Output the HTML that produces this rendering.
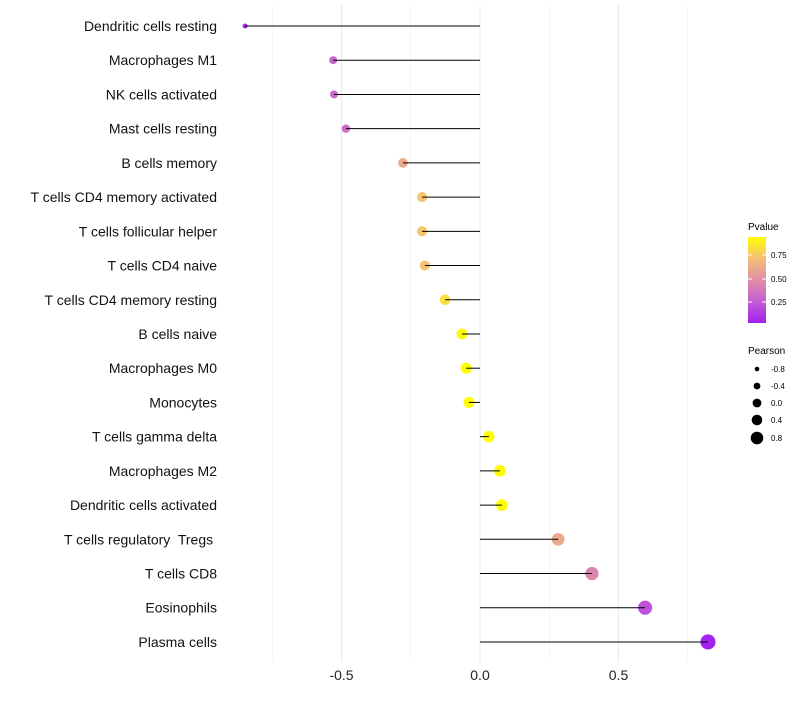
<!DOCTYPE html>
<html><head><meta charset="utf-8"><style>
body{margin:0;background:#fff;font-family:"Liberation Sans",sans-serif;}
svg text{font-family:"Liberation Sans",sans-serif;white-space:pre;}
</style></head><body>
<svg id="chart" width="800" height="700">
<defs><linearGradient id="pg" x1="0" y1="1" x2="0" y2="0">
<stop offset="0" stop-color="#a020f0"/><stop offset="0.25" stop-color="#c45dd5"/><stop offset="0.5" stop-color="#e08ea8"/><stop offset="0.75" stop-color="#f5be78"/><stop offset="1" stop-color="#ffff00"/>
</linearGradient></defs>
<g id="grid"></g><g id="points"></g><g id="stems"></g><g id="labels"></g>
<g>
<text x="748" y="230" font-size="10" fill="#000">Pvalue</text>
<rect x="748" y="237" width="18" height="86" fill="url(#pg)"/>
<line x1="748" x2="752" y1="255" y2="255" stroke="#fff"/><line x1="762" x2="766" y1="255" y2="255" stroke="#fff"/>
<line x1="748" x2="752" y1="279" y2="279" stroke="#fff"/><line x1="762" x2="766" y1="279" y2="279" stroke="#fff"/>
<line x1="748" x2="752" y1="302" y2="302" stroke="#fff"/><line x1="762" x2="766" y1="302" y2="302" stroke="#fff"/>
<text x="771" y="258" font-size="8">0.75</text><text x="771" y="282" font-size="8">0.50</text><text x="771" y="305" font-size="8">0.25</text>
</g>
<g>
<text x="748" y="354" font-size="10">Pearson</text>
<circle cx="757" cy="369" r="2.3"/><text x="771" y="372" font-size="8">-0.8</text>
<circle cx="757" cy="386" r="3.4"/><text x="771" y="389" font-size="8">-0.4</text>
<circle cx="757" cy="403" r="4.4"/><text x="771" y="406" font-size="8">0.0</text>
<circle cx="757" cy="420" r="5.3"/><text x="771" y="423" font-size="8">0.4</text>
<circle cx="757" cy="438" r="6.3"/><text x="771" y="441" font-size="8">0.8</text>
</g>
</svg>
<script>
const categories=["Dendritic cells resting","Macrophages M1","NK cells activated","Mast cells resting","B cells memory","T cells CD4 memory activated","T cells follicular helper","T cells CD4 naive","T cells CD4 memory resting","B cells naive","Macrophages M0","Monocytes","T cells gamma delta","Macrophages M2","Dendritic cells activated","T cells regulatory  Tregs ","T cells CD8","Eosinophils","Plasma cells"];
const pearson=[-0.848,-0.53,-0.527,-0.484,-0.278,-0.209,-0.209,-0.199,-0.126,-0.065,-0.05,-0.04,0.032,0.072,0.079,0.282,0.404,0.596,0.823];
const pvalue=[0.06,0.3,0.31,0.33,0.62,0.73,0.73,0.73,0.83,0.92,0.96,0.98,0.98,0.93,0.93,0.62,0.45,0.22,0.04];
const xTicks=[-0.5,0,0.5];
const xTickLabels=["-0.5","0.0","0.5"];
const NS="http://www.w3.org/2000/svg";
const x=v=>480+v*277;
const y=i=>26+i*34.22;
const rad=v=>Math.sqrt(Math.max(2,32+30*v));
const stops=[[160,32,240],[196,93,213],[224,142,168],[245,190,120],[255,255,0]];
function col(p){const t=Math.max(0,Math.min(1,(p-0.03)/0.91))*4;
 const k=Math.min(3,Math.floor(t)),s=t-k,a=stops[k],b=stops[k+1];
 return `rgb(${a.map((v,j)=>Math.round(v+(b[j]-v)*s)).join(',')})`;}
function mk(t,at,g){const e=document.createElementNS(NS,t);for(const k in at)e.setAttribute(k,at[k]);g.appendChild(e);return e;}
const grid=document.getElementById('grid'),points=document.getElementById('points'),stems=document.getElementById('stems'),labels=document.getElementById('labels');
[-0.75,-0.25,0.25,0.75].forEach(v=>mk('line',{x1:x(v),x2:x(v),y1:5,y2:662,stroke:'#f0f0f0','stroke-width':0.6},grid));
xTicks.forEach((v,i)=>{mk('line',{x1:x(v),x2:x(v),y1:5,y2:662,stroke:'#ebebeb','stroke-width':1.1},grid);
 const t=mk('text',{x:x(v),y:680,'font-size':14,'text-anchor':'middle',fill:'#222'},labels);t.textContent=xTickLabels[i];
 
 });
categories.forEach((c,i)=>{
 const p=mk('circle',{cx:x(pearson[i]),cy:y(i),r:rad(pearson[i]),fill:col(pvalue[i])},points);
 
 
 const l=mk('line',{x1:x(0),x2:x(pearson[i]),y1:y(i),y2:y(i),stroke:'#000','stroke-width':1},stems);
 
 
 const t=mk('text',{x:217,y:y(i)+5,'font-size':14,'text-anchor':'end',fill:'#111'},labels);t.textContent=c;
 
 
});
</script>
</body></html>
